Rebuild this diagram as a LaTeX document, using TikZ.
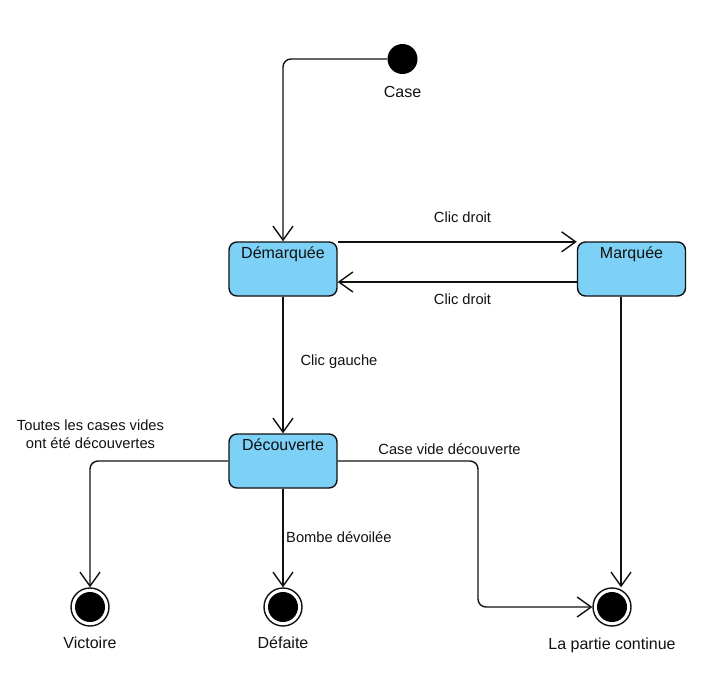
\documentclass[tikz,border=0pt]{standalone}
\usepackage{fontspec}
\setmainfont{Liberation Sans}
\usetikzlibrary{arrows.meta,calc}
\definecolor{stateblue}{HTML}{7DD0F6}
\definecolor{ink}{HTML}{111111}
\begin{document}
\begin{tikzpicture}[x=1pt,y=-1pt,
  every node/.style={font=\fontsize{14.7}{18}\selectfont, text=ink},
  bigtext/.style={font=\fontsize{16}{19}\selectfont},
  statebox/.style={draw=ink, fill=stateblue, line width=1.4pt, rounded corners=8pt, bigtext,
    minimum width=108pt, inner sep=0pt, text height=16pt, text depth=38pt, align=center},
  initstate/.style={circle, fill=black, minimum size=30pt, inner sep=0pt},
  finalstate/.style={circle, draw=ink, fill=white, line width=1.4pt, minimum size=38pt, inner sep=0pt,
    path picture={\fill[black] (path picture bounding box.center) circle (15pt);}},
  trans/.style={draw=ink, line width=1.4pt, -{Straight Barb[length=14pt,width=20pt,line width=1.4pt]}},
  lbl/.style={inner sep=0pt}
]
\useasboundingbox (0,0) rectangle (717,673);

% states
\node[initstate] (init) at (402.5,59) {};
\node[lbl, bigtext] (caselbl) at (402.5,92) {Case};

\node[statebox] (dem) at (283,269) {Démarquée};
\node[statebox] (mar) at (631.5,269) {Marquée};
\node[statebox] (dec) at (283,461) {Découverte};

\node[finalstate] (vic) at (90,607) {};
\node[finalstate] (def) at (283,607) {};
\node[finalstate] (cont) at (612,607) {};

\node[lbl, bigtext] (viclbl) at (90,643) {Victoire};
\node[lbl, bigtext] (deflbl) at (283,643) {Défaite};
\node[lbl, bigtext] (contlbl) at (612,645) {La partie continue};

% helper coordinates
\coordinate (mx) at (621,0);
\coordinate (kx) at (478,534);

% transitions
\draw[trans, rounded corners=8pt] (init.west) -| (dem.north);
\draw[trans] ($(dem.north east)+(0,0.5)$) -- ($(mar.north west)+(0,0.5)$);
\draw[trans] ($(mar.west)+(0,13)$) -- ($(dem.east)+(0,13)$);
\draw[trans] (dem.south) -- (dec.north);
\draw[trans, rounded corners=8pt] (dec.west) -| (vic.north);
\draw[trans] (dec.south) -- (def.north);
\draw[trans, rounded corners=8pt] (dec.east) -| (kx) |- (cont.west);
\draw[trans] (mar.south -| mx) -- (cont.north -| mx);

% transition labels
\node[lbl] (l1) at (462.5,217) {Clic droit};
\node[lbl] (l2) at (462.5,299) {Clic droit};
\node[lbl] (l3) at (339,362) {Clic gauche};
\node[lbl, align=center] (l4) at (90.5,434) {Toutes les cases vides\\ont été découvertes};
\node[lbl, anchor=west] (l5) at (286,537) {Bombe dévoilée};
\node[lbl] (l6) at (449.5,449) {Case vide découverte};
\end{tikzpicture}
\end{document}
